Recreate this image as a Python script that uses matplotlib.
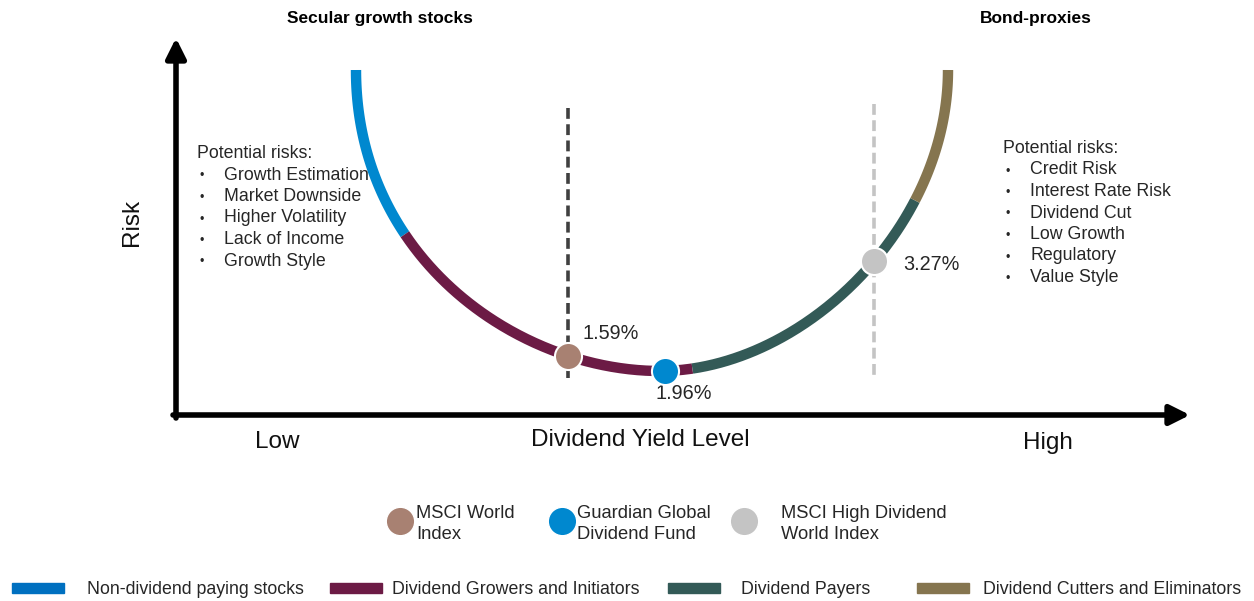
import numpy as np
import matplotlib
matplotlib.use("Agg")
from matplotlib import pyplot as plt
from matplotlib.patches import Rectangle

plt.rcParams['font.family'] = ['Liberation Sans', 'DejaVu Sans']

# segments of the U curve, given as the yield-axis position (pixels) where each one ends
segment_names = ["Non-dividend paying stocks", "Dividend Growers and Initiators",
                 "Dividend Payers", "Dividend Cutters and Eliminators"]
segment_ends = [405, 692, 915, 948]
segment_colors = ["#0088cf", "#6c1b45", "#335a57", "#85754f"]
legend_bar_colors = ["#0070c0", "#6c1b45", "#335a57", "#85754f"]

# index markers, placed along the yield axis
index_names = ["MSCI World\nIndex", "Guardian Global\nDividend Fund", "MSCI High Dividend\nWorld Index"]
index_yields = ["1.59%", "1.96%", "3.27%"]
index_x = [568, 665, 874]
index_colors = ["#a88172", "#0088cf", "#c4c4c4"]
dashed_colors = ["#404040", None, "#c4c4c4"]
dashed_spans = [(108, 378), None, (104, 376)]
label_offsets = [(43, -22), (19, 23), (57, 3)]

left_risks = ["Growth Estimation", "Market Downside", "Higher Volatility", "Lack of Income", "Growth Style"]
right_risks = ["Credit Risk", "Interest Rate Risk", "Dividend Cut", "Low Growth", "Regulatory", "Value Style"]


def bezier(p0, p1, p2, p3, n=300):
    t = np.linspace(0, 1, n)[:, None]
    pts = ((1 - t) ** 3 * np.array(p0) + 3 * (1 - t) ** 2 * t * np.array(p1)
           + 3 * (1 - t) * t ** 2 * np.array(p2) + t ** 3 * np.array(p3))
    return pts[:, 0], pts[:, 1]


# the U curve: two cubic halves meeting at the bottom
lx, ly = bezier((356, 70), (356, 260), (520, 371), (660, 371))
rx, ry = bezier((660, 371), (800, 371), (948, 230), (948, 70))
curve_x = np.concatenate([lx, rx[1:]])
curve_y = np.concatenate([ly, ry[1:]])


def curve_y_at(x):
    return np.interp(x, curve_x, curve_y)


fig = plt.figure(figsize=(12.54, 6.01), dpi=100)
ax = fig.add_axes([0, 0, 1, 1])
ax.set_xlim(0, 1254)
ax.set_ylim(601, 0)
ax.axis("off")

# axes arrows
arrow = dict(arrowstyle="-|>,head_length=1.2,head_width=0.6", lw=4, color="black", shrinkA=0, shrinkB=0)
ax.annotate("", xy=(176, 38), xytext=(176, 418), arrowprops=arrow)
ax.annotate("", xy=(1190, 415), xytext=(173, 415), arrowprops=arrow)
ax.text(132, 222, "Risk", rotation=90, fontsize=17.5, color="#111111", ha="center", va="center")
ax.text(277, 442, "Low", fontsize=17.5, color="#111111", ha="center", va="center")
ax.text(640, 440, "Dividend Yield Level", fontsize=17.5, color="#111111", ha="center", va="center")
ax.text(1048, 443, "High", fontsize=17.5, color="#111111", ha="center", va="center")

ax.text(380, 18, "Secular growth stocks", fontsize=12.5, fontweight="bold", ha="center", va="center")
ax.text(1036, 18, "Bond-proxies", fontsize=12.5, fontweight="bold", ha="center", va="center")

# dashed reference lines
for x, dc, span in zip(index_x, dashed_colors, dashed_spans):
    if dc is None:
        continue
    ax.plot([x, x], list(span), color=dc, lw=2.6, ls=(0, (3, 1.5)), zorder=2)

# curve segments
start = curve_x[0]
for end, c in zip(segment_ends, segment_colors):
    m = (curve_x >= start - 0.5) & (curve_x <= end + 0.5)
    ax.plot(curve_x[m], curve_y[m], color=c, lw=7.5, solid_capstyle="butt", zorder=3)
    start = end

# markers and labels
for x, c, lab, (dx, dy) in zip(index_x, index_colors, index_yields, label_offsets):
    y = curve_y_at(x)
    ax.scatter([x], [y], s=380, color=c, edgecolor="white", linewidth=1.5, zorder=5)
    ax.text(x + dx, y + dy, lab, fontsize=14.3, color="#262626", ha="center", va="center")


# risk lists
def risk_list(x0, y0, items, step):
    ax.text(x0, y0 + 5, "Potential risks:", fontsize=12.8, color="#262626", va="baseline")
    for i, item in enumerate(items):
        y = y0 + step * (i + 1) + 5
        ax.text(x0 + 2, y, "•", fontsize=9, color="#262626", va="baseline")
        ax.text(x0 + 27, y, item, fontsize=12.8, color="#262626", va="baseline")


risk_list(197, 153, left_risks, 21.5)
risk_list(1003, 148, right_risks, 21.5)

# marker legend
leg_x = [400, 562, 744]
text_dx = [16, 15, 37]
for lx_, dx, c, name in zip(leg_x, text_dx, index_colors, index_names):
    ax.scatter([lx_], [521], s=420, color=c, edgecolor="white", linewidth=1.0, zorder=5)
    ax.text(lx_ + dx, 524, name, fontsize=13.2, color="#262626", va="center", linespacing=1.35)

# segment legend
bar_x = [12, 330, 668, 917]
text_x = [87, 392, 741, 983]
for bx, tx, c, name in zip(bar_x, text_x, legend_bar_colors, segment_names):
    ax.add_patch(Rectangle((bx, 583), 52, 10, color=c))
    ax.text(tx, 589, name, fontsize=12.8, color="#262626", va="center")

fig.savefig("out.png", dpi=100)
